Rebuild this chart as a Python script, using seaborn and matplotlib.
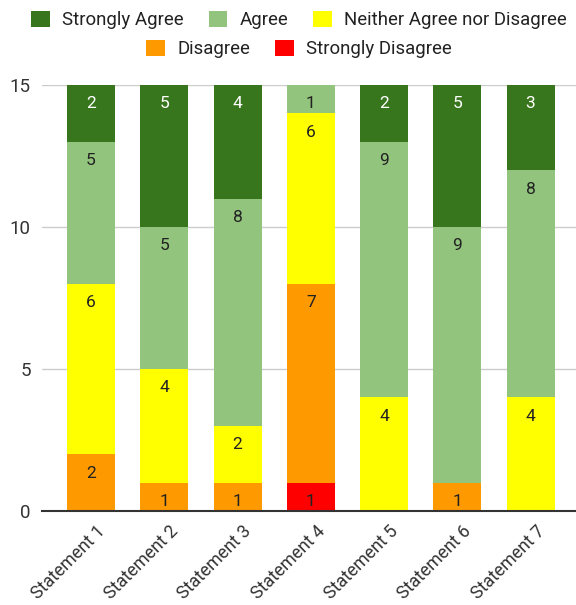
import matplotlib
matplotlib.use("Agg")
import matplotlib.pyplot as plt
import matplotlib.transforms as mtransforms
from matplotlib.patches import Patch
import numpy as np
import pandas as pd
import seaborn as sns

statements = ["Statement 1", "Statement 2", "Statement 3", "Statement 4",
              "Statement 5", "Statement 6", "Statement 7"]

strongly_disagree = [0, 0, 0, 1, 0, 0, 0]
disagree = [2, 1, 1, 7, 0, 1, 0]
neither = [6, 4, 2, 6, 4, 0, 4]
agree = [5, 5, 8, 1, 9, 9, 8]
strongly_agree = [2, 5, 4, 0, 2, 5, 3]

# stacking order, bottom to top
series = [
    ("Strongly Disagree", strongly_disagree, "#ff0000", "#222222"),
    ("Disagree", disagree, "#ff9900", "#222222"),
    ("Neither Agree nor Disagree", neither, "#ffff00", "#222222"),
    ("Agree", agree, "#93c47d", "#222222"),
    ("Strongly Agree", strongly_agree, "#38761d", "#ffffff"),
]

sns.set_theme(style="white")
plt.rcParams["font.family"] = ["Roboto", "DejaVu Sans"]

fig = plt.figure(figsize=(5.76, 6.05), dpi=100)
W, H = 576, 605
ax = fig.add_axes([42 / W, 1 - 511 / H, (576 - 42) / W, (511 - 85) / H])

bottom = np.zeros(len(statements))
for name, vals, color, txt in series:
    vals = np.asarray(vals, dtype=float)
    df = pd.DataFrame({"statement": statements, "count": vals})
    sns.barplot(data=df, x="statement", y="count", color=color,
                bottom=bottom, width=0.655, saturation=1, ax=ax,
                linewidth=0, errorbar=None)
    for i, v in enumerate(vals):
        if v > 0:
            top = bottom[i] + v
            y_off = mtransforms.offset_copy(ax.transData, fig=fig, x=0, y=-19, units="dots")
            ax.text(i, top, f"{int(v)}", transform=y_off, ha="center", va="center",
                    fontsize=12.5, color=txt)
    bottom = bottom + vals

ax.set_xlim(-0.669, 6.62)
ax.set_ylim(0, 15)
ax.set_yticks([0, 5, 10, 15])
ax.set_xlabel("")
ax.set_ylabel("")
ax.yaxis.grid(True, color="#cccccc", linewidth=1)
ax.set_axisbelow(True)
for s in ["top", "right", "left"]:
    ax.spines[s].set_visible(False)
ax.spines["bottom"].set_color("#333333")
ax.spines["bottom"].set_linewidth(1.5)
ax.spines["bottom"].set_zorder(5)
ax.tick_params(axis="y", length=0, pad=8, labelsize=13.5, labelcolor="#333333")
ax.tick_params(axis="x", length=0, pad=3, labelsize=12.8, labelcolor="#333333")

shift = mtransforms.ScaledTranslation(5 / 100, -7 / 100, fig.dpi_scale_trans)
for lab in ax.get_xticklabels():
    lab.set_rotation(45)
    lab.set_ha("right")
    lab.set_va("top")
    lab.set_rotation_mode("anchor")
    lab.set_transform(lab.get_transform() + shift)

# two centred legend rows
lookup = {name: color for name, _, color, _ in series}
row1 = ["Strongly Agree", "Agree", "Neither Agree nor Disagree"]
row2 = ["Disagree", "Strongly Disagree"]
common = dict(frameon=False, fontsize=13.4, handlelength=1.0, handleheight=1.0,
              handletextpad=0.65, columnspacing=1.35, labelcolor="#222222",
              borderaxespad=0, borderpad=0)
leg1 = fig.legend(handles=[Patch(facecolor=lookup[n], edgecolor="none", label=n) for n in row1],
                  loc="center", bbox_to_anchor=(299 / W, 1 - 20 / H), ncol=3, **common)
leg2 = fig.legend(handles=[Patch(facecolor=lookup[n], edgecolor="none", label=n) for n in row2],
                  loc="center", bbox_to_anchor=(299 / W, 1 - 49 / H), ncol=2, **common)

fig.savefig("out.png", dpi=100, facecolor="white")
